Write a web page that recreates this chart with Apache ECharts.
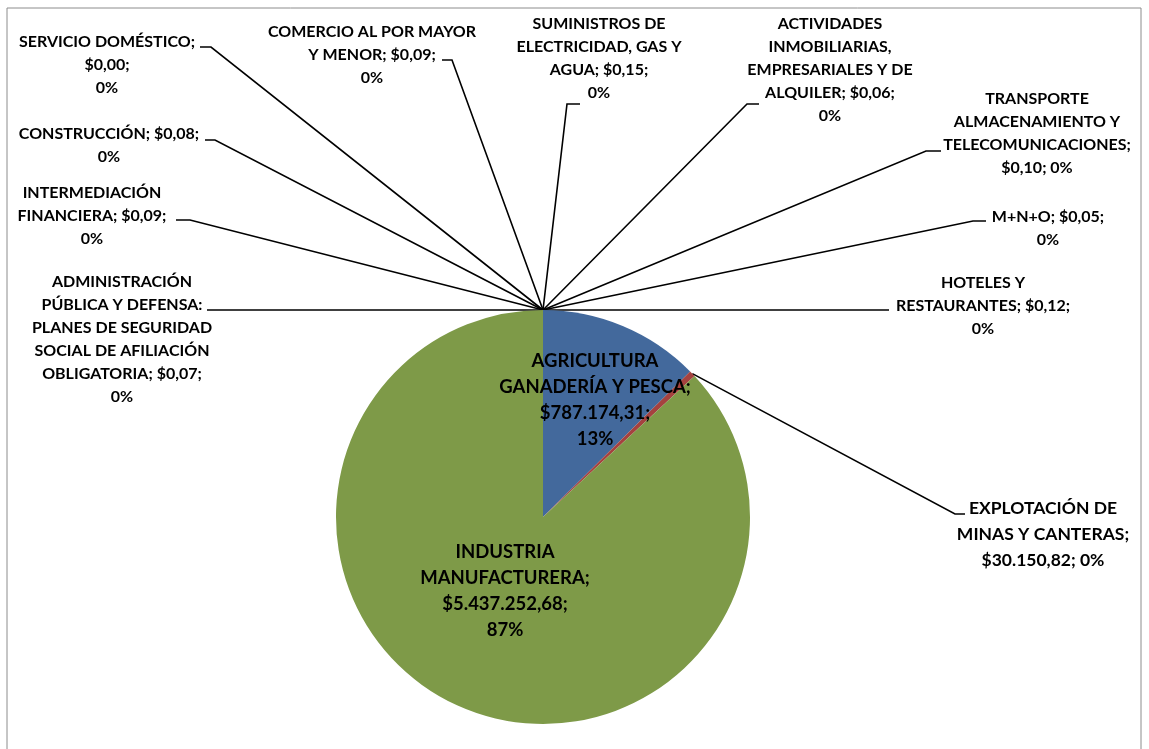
<!DOCTYPE html>
<html>
<head>
<meta charset="utf-8">
<script src="https://cdn.jsdelivr.net/npm/echarts@6/dist/echarts.min.js"></script>
<style>
  html, body { margin: 0; padding: 0; background: #fff; }
  #chart { width: 1149px; height: 749px; }
</style>
</head>
<body>
<div id="chart"></div>
<script>
// sector names and values (USD)
const sectors = [
  'AGRICULTURA GANADERÍA Y PESCA',
  'EXPLOTACIÓN DE MINAS Y CANTERAS',
  'INDUSTRIA MANUFACTURERA',
  'SUMINISTROS DE ELECTRICIDAD, GAS Y AGUA',
  'CONSTRUCCIÓN',
  'COMERCIO AL POR MAYOR Y MENOR',
  'HOTELES Y RESTAURANTES',
  'TRANSPORTE ALMACENAMIENTO Y TELECOMUNICACIONES',
  'INTERMEDIACIÓN FINANCIERA',
  'ACTIVIDADES INMOBILIARIAS, EMPRESARIALES Y DE ALQUILER',
  'ADMINISTRACIÓN PÚBLICA Y DEFENSA: PLANES DE SEGURIDAD SOCIAL DE AFILIACIÓN OBLIGATORIA',
  'M+N+O',
  'SERVICIO DOMÉSTICO'
]
const values = [787174.31, 30150.82, 5437252.68, 0.15, 0.08, 0.09, 0.12, 0.10, 0.09, 0.06, 0.07, 0.05, 0.00]

// label text as wrapped in the original
const labelTexts = [
  'AGRICULTURA\nGANADERÍA Y PESCA;\n$787.174,31;\n13%',
  'EXPLOTACIÓN DE\nMINAS Y CANTERAS;\n$30.150,82; 0%',
  'INDUSTRIA\nMANUFACTURERA;\n$5.437.252,68;\n87%',
  'SUMINISTROS DE\nELECTRICIDAD, GAS Y\nAGUA; $0,15;\n0%',
  'CONSTRUCCIÓN; $0,08;\n0%',
  'COMERCIO AL POR MAYOR\nY MENOR; $0,09;\n0%',
  'HOTELES Y\nRESTAURANTES; $0,12;\n0%',
  'TRANSPORTE\nALMACENAMIENTO Y\nTELECOMUNICACIONES;\n$0,10; 0%',
  'INTERMEDIACIÓN\nFINANCIERA; $0,09;\n0%',
  'ACTIVIDADES\nINMOBILIARIAS,\nEMPRESARIALES Y DE\nALQUILER; $0,06;\n0%',
  'ADMINISTRACIÓN\nPÚBLICA Y DEFENSA:\nPLANES DE SEGURIDAD\nSOCIAL DE AFILIACIÓN\nOBLIGATORIA; $0,07;\n0%',
  'M+N+O; $0,05;\n0%',
  'SERVICIO DOMÉSTICO;\n$0,00;\n0%'
]

const colors = ['#43699C', '#A5423F', '#7E9A48', '#7C5F9C', '#3E97AF', '#E0822E', '#95B3D7', '#D99694', '#C3D69B', '#B3A2C7', '#93CDDD', '#FAC090', '#4F81BD']

// label placement: [centre x, first line y]
const labelPos = [
  [595, 361], [1043, 508], [505, 552], [599, 24], [109, 134], [372, 32], [983, 283],
  [1037, 99], [92, 193], [830, 24], [122, 282], [1048, 217], [107, 42]
]
const labelSizes = [18.5, 17.5, 18.5, 16, 16, 16, 16, 16, 16, 16, 16, 16, 16]
// leader line end points (null = no leader)
const leaderEnds = [
  null,
  [[955, 514], [965, 514]],
  null,
  [[567, 104], [580, 104]],
  [[215, 140], [205, 140]],
  [[452, 60], [442, 60]],
  [[889, 310]],
  [[926, 151], [941, 151]],
  [[190, 220], [176, 220]],
  [[747, 104], [759, 104]],
  [[207, 310]],
  [[973, 221], [986, 221]],
  [[211, 47], [200, 47]]
]

const chart = echarts.init(document.getElementById('chart'))

const data = sectors.map((name, i) => ({
  name,
  value: values[i],
  itemStyle: { color: colors[i] },
  label: {
    fontSize: labelSizes[i],
    lineHeight: i < 3 ? 26 : 23
  },
  labelLine: { show: !!leaderEnds[i] }
}))

chart.setOption({
  animation: false,
  graphic: [{
    type: 'rect',
    shape: { x: 7, y: 8, width: 1134, height: 780 },
    style: { fill: 'none', stroke: '#8c8c8c', lineWidth: 1 },
    silent: true
  }],
  series: [{
    type: 'pie',
    center: [543, 517],
    radius: 207,
    startAngle: 90,
    clockwise: true,
    avoidLabelOverlap: false,
    minAngle: 0,
    data,
    label: {
      show: true,
      position: 'outside',
      formatter: p => labelTexts[p.dataIndex],
      color: '#000',
      fontFamily: 'Lato',
      fontWeight: 'bold',
      align: 'center'
    },
    labelLine: {
      show: true,
      length: 10,
      length2: 10,
      lineStyle: { color: '#000', width: 1.6 }
    },
    labelLayout: p => {
      const i = p.dataIndex
      const lh = i < 3 ? 26 : 23
      const out = {
        x: labelPos[i][0],
        y: labelPos[i][1] - lh / 2,
        align: 'center',
        verticalAlign: 'top'
      }
      if (leaderEnds[i] && p.labelLinePoints) {
        out.labelLinePoints = [p.labelLinePoints[0]].concat(leaderEnds[i])
      }
      return out
    }
  }]
})
</script>
</body>
</html>
